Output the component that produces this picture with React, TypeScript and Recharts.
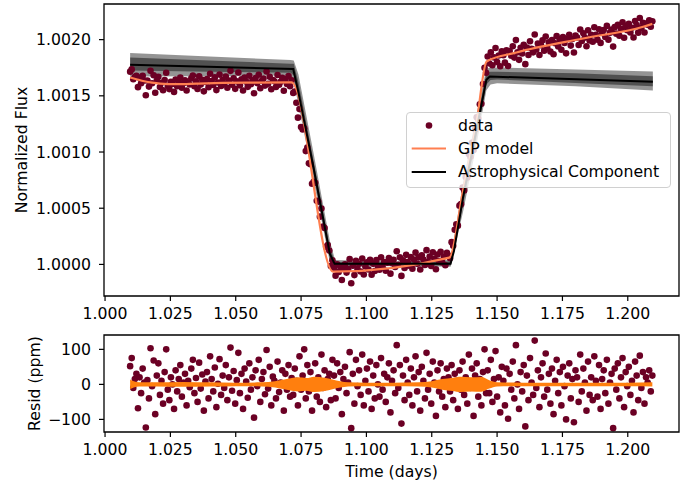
import React from "react";
import { ComposedChart, Scatter, Line, Area, XAxis, YAxis, ReferenceArea } from "recharts";

// Observation times (days)
const TIME = [
  1.0096, 1.0102, 1.0108, 1.0114, 1.0120, 1.0126, 1.0132, 1.0138, 1.0144, 1.0150,
  1.0156, 1.0162, 1.0168, 1.0174, 1.0180, 1.0186, 1.0192, 1.0198, 1.0204, 1.0210,
  1.0216, 1.0222, 1.0228, 1.0234, 1.0240, 1.0246, 1.0252, 1.0258, 1.0264, 1.0270,
  1.0276, 1.0282, 1.0288, 1.0294, 1.0300, 1.0306, 1.0312, 1.0318, 1.0324, 1.0330,
  1.0336, 1.0342, 1.0348, 1.0354, 1.0360, 1.0366, 1.0372, 1.0378, 1.0384, 1.0390,
  1.0396, 1.0402, 1.0408, 1.0414, 1.0420, 1.0426, 1.0432, 1.0438, 1.0444, 1.0450,
  1.0456, 1.0462, 1.0468, 1.0474, 1.0480, 1.0486, 1.0492, 1.0498, 1.0504, 1.0510,
  1.0516, 1.0522, 1.0528, 1.0534, 1.0540, 1.0546, 1.0552, 1.0558, 1.0564, 1.0570,
  1.0576, 1.0582, 1.0588, 1.0594, 1.0600, 1.0606, 1.0612, 1.0618, 1.0624, 1.0630,
  1.0636, 1.0642, 1.0648, 1.0654, 1.0660, 1.0666, 1.0672, 1.0678, 1.0684, 1.0690,
  1.0696, 1.0702, 1.0708, 1.0714, 1.0720, 1.0726, 1.0732, 1.0738, 1.0744, 1.0750,
  1.0756, 1.0762, 1.0768, 1.0774, 1.0780, 1.0786, 1.0792, 1.0798, 1.0804, 1.0810,
  1.0816, 1.0822, 1.0828, 1.0834, 1.0840, 1.0846, 1.0852, 1.0858, 1.0864, 1.0870,
  1.0876, 1.0882, 1.0888, 1.0894, 1.0900, 1.0906, 1.0912, 1.0918, 1.0924, 1.0930,
  1.0936, 1.0942, 1.0948, 1.0954, 1.0960, 1.0966, 1.0972, 1.0978, 1.0984, 1.0990,
  1.0996, 1.1002, 1.1008, 1.1014, 1.1020, 1.1026, 1.1032, 1.1038, 1.1044, 1.1050,
  1.1056, 1.1062, 1.1068, 1.1074, 1.1080, 1.1086, 1.1092, 1.1098, 1.1104, 1.1110,
  1.1116, 1.1122, 1.1128, 1.1134, 1.1140, 1.1146, 1.1152, 1.1158, 1.1164, 1.1170,
  1.1176, 1.1182, 1.1188, 1.1194, 1.1200, 1.1206, 1.1212, 1.1218, 1.1224, 1.1230,
  1.1236, 1.1242, 1.1248, 1.1254, 1.1260, 1.1266, 1.1272, 1.1278, 1.1284, 1.1290,
  1.1296, 1.1302, 1.1308, 1.1314, 1.1320, 1.1326, 1.1332, 1.1338, 1.1344, 1.1350,
  1.1356, 1.1362, 1.1368, 1.1374, 1.1380, 1.1386, 1.1392, 1.1398, 1.1404, 1.1410,
  1.1416, 1.1422, 1.1428, 1.1434, 1.1440, 1.1446, 1.1452, 1.1458, 1.1464, 1.1470,
  1.1476, 1.1482, 1.1488, 1.1494, 1.1500, 1.1506, 1.1512, 1.1518, 1.1524, 1.1530,
  1.1536, 1.1542, 1.1548, 1.1554, 1.1560, 1.1566, 1.1572, 1.1578, 1.1584, 1.1590,
  1.1596, 1.1602, 1.1608, 1.1614, 1.1620, 1.1626, 1.1632, 1.1638, 1.1644, 1.1650,
  1.1656, 1.1662, 1.1668, 1.1674, 1.1680, 1.1686, 1.1692, 1.1698, 1.1704, 1.1710,
  1.1716, 1.1722, 1.1728, 1.1734, 1.1740, 1.1746, 1.1752, 1.1758, 1.1764, 1.1770,
  1.1776, 1.1782, 1.1788, 1.1794, 1.1800, 1.1806, 1.1812, 1.1818, 1.1824, 1.1830,
  1.1836, 1.1842, 1.1848, 1.1854, 1.1860, 1.1866, 1.1872, 1.1878, 1.1884, 1.1890,
  1.1896, 1.1902, 1.1908, 1.1914, 1.1920, 1.1926, 1.1932, 1.1938, 1.1944, 1.1950,
  1.1956, 1.1962, 1.1968, 1.1974, 1.1980, 1.1986, 1.1992, 1.1998, 1.2004, 1.2010,
  1.2016, 1.2022, 1.2028, 1.2034, 1.2040, 1.2046, 1.2052, 1.2058, 1.2064, 1.2070,
  1.2076, 1.2082, 1.2088, 1.2094,
];

// Normalized flux, stored as (flux - 1) in ppm
const FLUX_PPM = [
  1715, 1735, 1647, 1668, 1679, 1577, 1661, 1612, 1679, 1636,
  1505, 1637, 1582, 1722, 1612, 1683, 1528, 1636, 1669, 1578,
  1617, 1550, 1640, 1705, 1590, 1560, 1625, 1605, 1535, 1645,
  1585, 1622, 1662, 1572, 1613, 1638, 1548, 1619, 1601, 1655,
  1680, 1585, 1629, 1561, 1674, 1600, 1643, 1540, 1623, 1650,
  1576, 1696, 1631, 1596, 1664, 1551, 1619, 1689, 1587, 1642,
  1607, 1672, 1572, 1637, 1722, 1599, 1655, 1562, 1629, 1707,
  1593, 1648, 1548, 1663, 1626, 1580, 1678, 1603, 1638, 1523,
  1658, 1613, 1688, 1568, 1634, 1654, 1591, 1717, 1607, 1669,
  1559, 1641, 1629, 1579, 1685, 1598, 1625, 1660, 1545, 1650,
  1605, 1675, 1585, 1638, 1526, 1538, 1439, 1306, 1382, 1223,
  1200, 1211, 1008, 1039, 900, 892, 718, 735, 726, 567,
  559, 425, 497, 338, 324, 156, 172, 124, -15, 36,
  -37, -100, 2, -67, -20, -138, -37, 0, -73, -42,
  47, -168, -12, -95, 32, -42, 5, -63, 53, -90,
  -18, 18, -45, 42, -92, 5, -58, 38, -15, -48,
  63, -25, 22, -57, 15, 57, -82, 10, 42, -22,
  117, -3, 63, -102, 37, -32, 85, 22, -12, 65,
  -38, 43, 105, 7, 63, -45, 82, 43, -5, 127,
  23, 70, -13, 108, 50, -43, 88, 30, 112, 18,
  70, -8, 103, 80, 55, 198, 166, 309, 357, 345,
  523, 536, 684, 658, 778, 773, 983, 958, 1083, 1018,
  1203, 1310, 1295, 1425, 1430, 1605, 1750, 1705, 1850, 1789,
  1888, 1772, 1842, 1926, 1800, 1859, 1763, 1897, 1861, 1795,
  1904, 1765, 1898, 1857, 1941, 1840, 1996, 1887, 1820, 1928,
  1876, 1954, 1782, 1930, 1863, 1986, 1919, 1887, 2045, 1912,
  1965, 1863, 1951, 1994, 1902, 2028, 1928, 1976, 1894, 1997,
  1870, 1968, 2031, 1939, 2002, 1910, 2022, 1970, 1878, 2006,
  2044, 1947, 2005, 1885, 2036, 2019, 1952, 2090, 1988, 2056,
  2018, 1941, 2084, 1992, 2044, 1982, 2110, 2043, 2000, 2093,
  1971, 2059, 2086, 2024, 2122, 2000, 2062, 2090, 1938, 2111,
  2053, 2131, 2034, 2097, 2154, 2017, 2120, 2083, 2140, 2063,
  2106, 2019, 2166, 2129, 2062, 2192, 2102, 2150, 2064, 2143,
  2132, 2171, 2115, 2164,
];

// Residuals (ppm)
const RESID_PPM = [
  52, 75, -10, 15, 30, -68, 20, -25, 45, 5,
  -123, 12, -40, 103, -5, 68, -85, 25, 60, -30,
  10, -55, 35, 100, -15, -45, 20, 0, -70, 40,
  -20, 15, 55, -35, 5, 30, -60, 10, -8, 45,
  70, -25, 18, -50, 62, -12, 28, -75, 8, 35,
  -40, 80, 15, -20, 48, -65, 2, 72, -30, 25,
  -10, 55, -45, 20, 105, -18, 38, -55, 12, 90,
  -25, 30, -70, 45, 8, -38, 60, -15, 20, -95,
  40, -5, 70, -50, 15, 35, -28, 98, -12, 50,
  -60, 22, 10, -40, 65, -22, 5, 40, -75, 30,
  -15, 55, -35, 18, -30, 45, 10, -60, 80, -15,
  25, 100, -40, 55, -20, 35, -75, 5, 60, -35,
  20, -50, 85, -10, 40, -65, 15, 30, -45, 70,
  25, -40, 60, -10, 35, -85, 15, 50, -25, 5,
  92, -125, 30, -55, 70, -5, 40, -30, 85, -60,
  10, 45, -20, 65, -70, 25, -40, 55, 0, -35,
  75, -15, 30, -50, 20, 60, -80, 10, 40, -25,
  112, -10, 55, -112, 25, -45, 70, 5, -30, 45,
  -60, 20, 80, -20, 35, -75, 50, 10, -40, 90,
  -15, 30, -55, 65, 5, -90, 40, -20, 60, -35,
  15, -65, 45, 20, -20, 55, -45, 30, 10, -70,
  40, -15, 65, -30, 20, -55, 85, -10, 45, -90,
  25, 60, -35, 15, -60, 35, 100, -25, 40, -25,
  70, -50, 15, 95, -35, 20, -80, 50, 10, -60,
  45, -98, 30, -15, 65, -40, 112, 0, -70, 35,
  -20, 55, -120, 25, -45, 75, 5, -30, 125, -10,
  40, -65, 20, 60, -35, 88, -15, 30, -55, 45,
  -85, 10, 70, -25, 35, -60, 50, -5, -100, 25,
  60, -40, 15, -108, 40, 20, -50, 85, -20, 45,
  5, -75, 65, -30, 20, -45, 80, 10, -35, 55,
  -70, 15, 40, -25, 70, -55, 5, 30, -125, 45,
  -15, 60, -40, 20, 75, -65, 35, -5, 50, -30,
  10, -80, 65, 25, -45, 82, -10, 35, -55, 20,
  5, 40, -20, 25,
];

// GP model (ppm)
const GP_T = [1.0096, 1.012, 1.015, 1.018, 1.021, 1.024, 1.028, 1.035, 1.045, 1.055, 1.0714, 1.0873, 1.1317, 1.137, 1.1421, 1.146, 1.1574, 1.1829, 1.2059, 1.2094];
const GP_V = [1663, 1648, 1630, 1617, 1608, 1604, 1604, 1609, 1615, 1618, 1620, -65, 60, 661, 1256, 1806, 1885, 2010, 2115, 2140];

// Astrophysical component median (ppm)
const ASTRO_T = [1.0096, 1.072, 1.074, 1.0797, 1.086, 1.0878, 1.1322, 1.1335, 1.137, 1.1421, 1.1459, 1.1472, 1.2096];
const ASTRO_V = [1777, 1738, 1530, 869, 95, 5, 5, 120, 601, 1196, 1643, 1672, 1625];

// Astrophysical component posterior spread (ppm)
const BAND_T = [1.0096, 1.04, 1.071, 1.0722, 1.074, 1.0797, 1.086, 1.088, 1.11, 1.1322, 1.137, 1.1421, 1.1459, 1.1475, 1.15, 1.18, 1.2096];
const BAND_LO = [1672, 1675, 1680, 1620, 1420, 760, 20, -25, -15, -20, 470, 1060, 1550, 1600, 1612, 1585, 1547];
const BAND_HI = [1880, 1850, 1818, 1815, 1690, 1000, 210, 40, 25, 40, 730, 1330, 1740, 1752, 1752, 1735, 1717];
const BAND_IN_LO = [1725, 1715, 1705, 1680, 1480, 820, 50, -10, -8, -10, 540, 1130, 1600, 1640, 1645, 1615, 1585];
const BAND_IN_HI = [1840, 1815, 1785, 1785, 1620, 930, 150, 20, 18, 25, 670, 1260, 1700, 1715, 1715, 1700, 1675];

// GP uncertainty in residual panel (half width, ppm)
const RBAND_T = [1.0096, 1.011, 1.013, 1.02, 1.03, 1.04, 1.05, 1.06, 1.065, 1.07, 1.074, 1.077, 1.08, 1.084, 1.087, 1.09, 1.093, 1.1, 1.11, 1.12, 1.125, 1.129, 1.133, 1.136, 1.14, 1.144, 1.147, 1.15, 1.16, 1.18, 1.2, 1.2094];
const RBAND_HALF = [14, 9, 6, 6, 7, 6, 5, 6, 9, 16, 20, 18, 22, 19, 14, 9, 6, 5, 5, 6, 9, 15, 19, 22, 20, 21, 12, 6, 5, 5, 5, 6];

const X_TICKS = [1.0, 1.025, 1.05, 1.075, 1.1, 1.125, 1.15, 1.175, 1.2];
const FLUX_TICKS = [0, 500, 1000, 1500, 2000];
const RESID_TICKS = [-100, 0, 100];

const X_DOMAIN: [number, number] = [0.9996, 1.2196];
const FLUX_DOMAIN: [number, number] = [-281, 2317];
const RESID_DOMAIN: [number, number] = [-136, 141];

const FONT = "'DejaVu Sans', sans-serif";
const FS = 15.7;
const DOT = "#6b0024";
const GP_COLOR = "#ff7f50";
const TICK = { fill: "#000", fontSize: FS, fontFamily: FONT };
const TLINE = { stroke: "#000", strokeWidth: 1.2 };

const fluxPoints = TIME.map((t, i) => ({ t, v: FLUX_PPM[i] }));
const residPoints = TIME.map((t, i) => ({ t, v: RESID_PPM[i] }));
const gpLine = GP_T.map((t, i) => ({ t, v: GP_V[i] }));
const astroLine = ASTRO_T.map((t, i) => ({ t, v: ASTRO_V[i] }));
const bandOuter = BAND_T.map((t, i) => ({ t, r: [BAND_LO[i], BAND_HI[i]] }));
const bandInner = BAND_T.map((t, i) => ({ t, r: [BAND_IN_LO[i], BAND_IN_HI[i]] }));
const residBand = RBAND_T.map((t, i) => ({ t, r: [-RBAND_HALF[i], RBAND_HALF[i]] }));

const fmtX = (v: number) => v.toFixed(3);
const fmtFlux = (v: number) => (1 + v / 1e6).toFixed(4);
const fmtResid = (v: number) => (v < 0 ? "\u2212" + Math.abs(v) : String(v));

const Dot = (props: any) => <circle cx={props.cx} cy={props.cy} r={3.3} fill={DOT} />;

const YTitle = (props: any) => {
  const vb = props.viewBox || {};
  const cy = vb.y + vb.height / 2;
  const x = props.bx;
  return (
    <text x={x} y={cy} transform={`rotate(-90, ${x}, ${cy})`} textAnchor="middle" fontSize={FS} fontFamily={FONT} fill="#000">
      {props.text}
    </text>
  );
};

const XTitle = (props: any) => {
  const vb = props.viewBox || {};
  return (
    <text x={vb.x + vb.width / 2} y={vb.y + 45.3} textAnchor="middle" fontSize={FS} fontFamily={FONT} fill="#000">
      {props.text}
    </text>
  );
};

type PanelProps = {
  height: number;
  top: number;
  xHeight: number;
  yDomain: [number, number];
  yTicks: number[];
  yFmt: (v: number) => string;
  showAxes: boolean;
  yTitle?: string;
  yTitleX?: number;
  xTitle?: string;
  children: React.ReactNode;
};

const Panel = (p: PanelProps) => (
  <ComposedChart width={696} height={p.height} margin={{ top: p.top, right: 17, bottom: 0, left: 0 }}>
    <XAxis
      dataKey="t"
      type="number"
      domain={X_DOMAIN}
      allowDataOverflow
      ticks={X_TICKS}
      interval={0}
      tickFormatter={fmtX}
      tick={p.showAxes ? TICK : false}
      tickLine={p.showAxes ? TLINE : false}
      tickSize={5}
      tickMargin={7}
      axisLine={false}
      height={p.xHeight}
      padding={{ left: 0, right: 0 }}
      label={p.showAxes && p.xTitle ? <XTitle text={p.xTitle} /> : undefined}
    />
    <YAxis
      dataKey="v"
      type="number"
      domain={p.yDomain}
      allowDataOverflow
      ticks={p.yTicks}
      interval={0}
      tickFormatter={p.yFmt}
      tick={p.showAxes ? TICK : false}
      tickLine={p.showAxes ? TLINE : false}
      tickSize={5}
      tickMargin={8}
      axisLine={false}
      width={104}
      label={p.showAxes && p.yTitle ? <YTitle text={p.yTitle} bx={p.yTitleX} /> : undefined}
    />
    {p.children}
  </ComposedChart>
);

const Legend = () => (
  <div
    style={{
      position: "absolute",
      left: 406,
      top: 112,
      width: 265,
      height: 76,
      boxSizing: "border-box",
      border: "1px solid #d0d0d0",
      borderRadius: 4,
      background: "rgba(255,255,255,0.8)",
    }}
  >
    <svg width={265} height={76} style={{ position: "absolute", left: -1, top: -1 }}>
      <circle cx={23} cy={13.5} r={3.3} fill={DOT} />
      <line x1={5.7} x2={40} y1={36.5} y2={36.5} stroke={GP_COLOR} strokeWidth={2.2} />
      <line x1={5.7} x2={40} y1={60} y2={60} stroke="#000" strokeWidth={2.2} />
      <text x={52} y={18.8} fontSize={FS} fontFamily={FONT} fill="#000">data</text>
      <text x={52} y={42.1} fontSize={FS} fontFamily={FONT} fill="#000">GP model</text>
      <text x={52} y={65.3} fontSize={FS} fontFamily={FONT} fill="#000">Astrophysical Component</text>
    </svg>
  </div>
);

const layer: React.CSSProperties = { position: "absolute", left: 0 };

export default function App() {
  return (
    <div style={{ position: "absolute", left: 0, top: 0, width: 696, height: 487, background: "#fff", overflow: "hidden" }}>
      {/* top panel: band + data */}
      <div style={{ ...layer, top: 0 }}>
        <Panel height={330} top={4} xHeight={34} yDomain={FLUX_DOMAIN} yTicks={FLUX_TICKS} yFmt={fmtFlux} showAxes yTitle="Normalized Flux" yTitleX={27}>
          <Area data={bandOuter} dataKey="r" type="linear" stroke="none" fill="#000" fillOpacity={0.42} isAnimationActive={false} />
          <Area data={bandInner} dataKey="r" type="linear" stroke="none" fill="#000" fillOpacity={0.45} isAnimationActive={false} />
          <Scatter data={fluxPoints} dataKey="v" shape={Dot} isAnimationActive={false} />
        </Panel>
      </div>
      {/* top panel: model lines on top of data */}
      <div style={{ ...layer, top: 0 }}>
        <Panel height={330} top={4} xHeight={34} yDomain={FLUX_DOMAIN} yTicks={FLUX_TICKS} yFmt={fmtFlux} showAxes={false}>
          <Line data={gpLine} dataKey="v" type="monotone" stroke={GP_COLOR} strokeWidth={2.2} dot={false} isAnimationActive={false} />
          <Line data={astroLine} dataKey="v" type="linear" stroke="#000" strokeWidth={2} dot={false} isAnimationActive={false} />
          <ReferenceArea x1={X_DOMAIN[0]} x2={X_DOMAIN[1]} y1={FLUX_DOMAIN[0]} y2={FLUX_DOMAIN[1]} fill="none" fillOpacity={0} stroke="#000" strokeWidth={1.3} />
        </Panel>
      </div>
      <Legend />
      {/* bottom panel: residuals */}
      <div style={{ ...layer, top: 320 }}>
        <Panel height={167} top={15} xHeight={55} yDomain={RESID_DOMAIN} yTicks={RESID_TICKS} yFmt={fmtResid} showAxes yTitle="Resid (ppm)" yTitleX={39.5} xTitle="Time (days)">
          <Scatter data={residPoints} dataKey="v" shape={Dot} isAnimationActive={false} />
        </Panel>
      </div>
      <div style={{ ...layer, top: 320 }}>
        <Panel height={167} top={15} xHeight={55} yDomain={RESID_DOMAIN} yTicks={RESID_TICKS} yFmt={fmtResid} showAxes={false}>
          <Area data={residBand} dataKey="r" type="monotone" stroke="none" fill="#ff7f0e" fillOpacity={1} isAnimationActive={false} />
          <ReferenceArea x1={X_DOMAIN[0]} x2={X_DOMAIN[1]} y1={RESID_DOMAIN[0]} y2={RESID_DOMAIN[1]} fill="none" fillOpacity={0} stroke="#000" strokeWidth={1.3} />
        </Panel>
      </div>
    </div>
  );
}
